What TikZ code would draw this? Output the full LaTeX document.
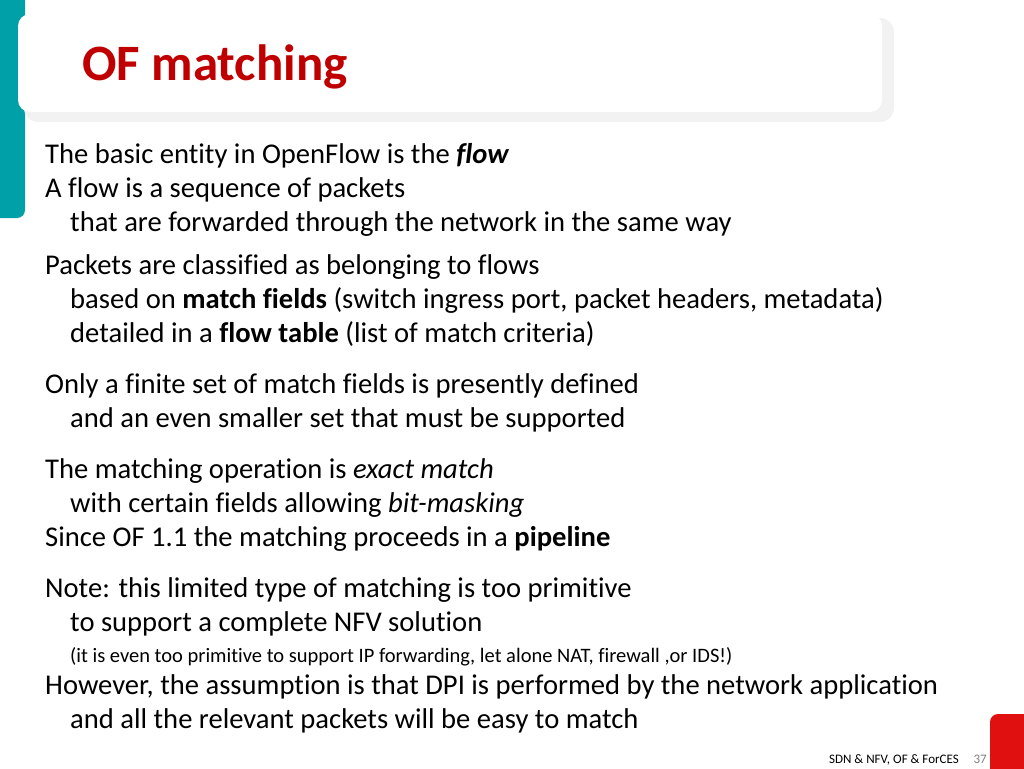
\documentclass[tikz,border=0pt]{standalone}
\usepackage{fontspec}
\setmainfont[Ligatures=NoCommon]{Carlito}
\definecolor{titlered}{HTML}{C00000}
\definecolor{tealc}{HTML}{00A0A8}
\definecolor{tabred}{HTML}{E01010}
\begin{document}
\begin{tikzpicture}[x=1pt,y=-1pt,
  body/.style={anchor=base west,inner sep=0pt,font=\fontsize{28.6}{32}\selectfont},
  small/.style={anchor=base west,inner sep=0pt,font=\fontsize{20.5}{24}\selectfont}]
\useasboundingbox (0,0) rectangle (1024,768);
\fill[white] (0,0) rectangle (1024,768);
\fill[tealc,rounded corners=8pt] (-10,-10) rectangle (25,218);
\fill[gray!10,rounded corners=14pt] (24,18) rectangle (894,122);
\fill[white,rounded corners=12pt] (18,14) rectangle (882,112);
\node[anchor=base west,inner sep=0pt,text=titlered,font=\fontsize{51}{56}\selectfont\bfseries] (title) at (82,80) {OF matching};
\node[body] (l1) at (45,163) {The basic entity in OpenFlow is the \textbf{\textit{flow}}};
\node[body] (l2) at (45,197) {A flow is a sequence of packets};
\node[body] (l3) at (70,231) {that are forwarded through the network in the same way};
\node[body] (l4) at (45,274) {Packets are classified as belonging to flows};
\node[body] (l5) at (70,308) {based on \textbf{match fields} (switch ingress port, packet headers, metadata)};
\node[body] (l6) at (70,342) {detailed in a \textbf{flow table} (list of match criteria)};
\node[body] (l7) at (45,393) {Only a finite set of match fields is presently defined};
\node[body] (l8) at (70,427) {and an even smaller set that must be supported};
\node[body] (l9) at (45,478) {The matching operation is \textit{exact match}};
\node[body] (l10) at (70,512) {with certain fields allowing \textit{bit-masking}};
\node[body] (l11) at (45,546) {Since OF 1.1 the matching proceeds in a \textbf{pipeline}};
\node[body] (l12) at (45,597) {Note: this limited type of matching is too primitive};
\node[body] (l13) at (70,631) {to support a complete NFV solution};
\node[small] (l14) at (70,662) {(it is even too primitive to support IP forwarding, let alone NAT, firewall ,or IDS!)};
\node[body] (l15) at (45,694) {However, the assumption is that DPI is performed by the network application};
\node[body] (l16) at (70,728) {and all the relevant packets will be easy to match};
\node[anchor=base east,inner sep=0pt,font=\fontsize{13}{15}\selectfont] (foot) at (959,763) {SDN \& NFV, OF \& ForCES};
\node[anchor=base east,inner sep=0pt,font=\fontsize{13}{15}\selectfont,text=gray] (num) at (987,763) {37};
\fill[tabred,rounded corners=8pt] (990,714) rectangle (1034,778);
\end{tikzpicture}
\end{document}
